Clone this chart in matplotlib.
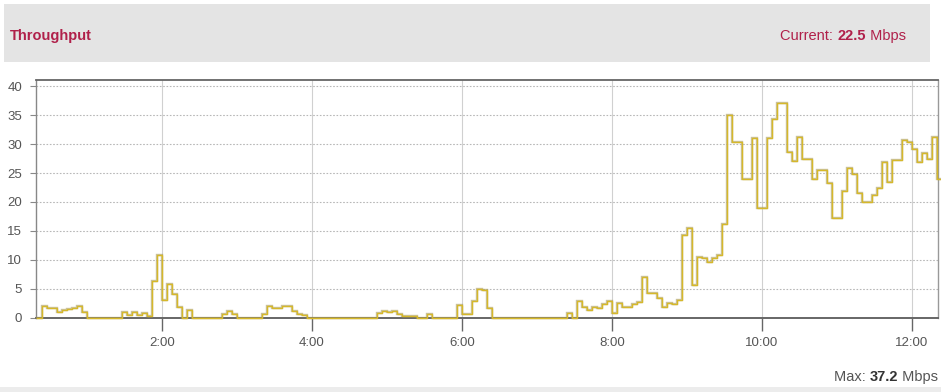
import matplotlib
matplotlib.use("Agg")
import matplotlib.pyplot as plt
import numpy as np
from matplotlib.patches import Rectangle

# ---- data -------------------------------------------------------------
start_hour = 20 / 60          # first sample at 0:20
step_minutes = 4              # sample interval
throughput = [
    0, 2.0, 1.6, 1.6, 1.0, 1.3, 1.4, 1.6, 2.0, 1.0,
    0, 0, 0, 0, 0, 0, 0, 1.0, 0.4, 1.0,
    0.4, 0.7, 0.2, 6.4, 10.8, 3.1, 5.8, 4.1, 1.9, 0,
    1.3, 0, 0, 0, 0, 0, 0, 0.6, 1.2, 0.6,
    0, 0, 0, 0, 0, 0.6, 2.0, 1.6, 1.6, 2.0,
    2.0, 1.2, 0.6, 0.5, 0, 0, 0, 0, 0, 0,
    0, 0, 0, 0, 0, 0, 0, 0, 0.7, 1.2,
    1.0, 1.1, 0.6, 0.2, 0.2, 0.2, 0, 0, 0.6, 0,
    0, 0, 0, 0, 2.1, 0.6, 0.6, 2.8, 4.9, 4.7,
    1.7, 0, 0, 0, 0, 0, 0, 0, 0, 0,
    0, 0, 0, 0, 0, 0, 0.7, 0, 2.8, 1.8,
    1.3, 1.8, 1.6, 2.4, 2.8, 0.7, 2.5, 1.8, 1.9, 2.4,
    2.7, 7.0, 4.2, 4.2, 3.3, 1.8, 2.5, 2.4, 3.0, 14.2,
    15.5, 5.6, 10.5, 10.3, 9.6, 10.3, 10.8, 16.1, 35.0, 30.3,
    30.3, 23.9, 23.9, 31.0, 18.9, 18.9, 31.1, 34.4, 37.2, 37.2,
    28.6, 27.1, 31.2, 27.4, 27.4, 23.9, 25.5, 25.5, 23.3, 17.3,
    17.3, 21.9, 25.8, 24.9, 21.5, 20.0, 20.0, 21.2, 22.4, 26.9,
    23.5, 27.2, 27.2, 30.7, 30.4, 29.1, 26.9, 28.4, 27.5, 31.2,
    23.9,
]
x_ticks = [2, 4, 6, 8, 10, 12]
x_tick_labels = ["2:00", "4:00", "6:00", "8:00", "10:00", "12:00"]
y_ticks = [0, 5, 10, 15, 20, 25, 30, 35, 40]
title = "Throughput"
current_value = "22.5"
max_value = "37.2"
unit = "Mbps"

# ---- figure -------------------------------------------------------------
W, H = 941, 392
fig = plt.figure(figsize=(W / 100, H / 100), dpi=100)
fig.patch.set_facecolor("white")

FONT = ["Liberation Sans", "DejaVu Sans"]
crimson = "#b0204a"
grey_txt = "#555555"

# header band
fig.patches.append(Rectangle((4 / W, 1 - 62 / H), 926 / W, 58 / H,
                             transform=fig.transFigure, facecolor="#e4e4e4",
                             edgecolor="none", zorder=0))
# bottom band
fig.patches.append(Rectangle((0, 0), 1, 5 / H, transform=fig.transFigure,
                             facecolor="#ececec", edgecolor="none", zorder=0))

fig.text(10 / W, 1 - 36 / H, title, color=crimson, fontsize=10.5,
         fontweight="bold", family=FONT, va="center", ha="left")

renderer = fig.canvas.get_renderer()


def right_text(x_px, y_px, pieces, size):
    """place text pieces (text, weight, color) ending at x_px"""
    x = x_px
    for txt, weight, color in reversed(pieces):
        t = fig.text(x / W, 1 - y_px / H, txt, fontsize=size, fontweight=weight,
                     color=color, family=FONT, ha="right", va="center")
        bb = t.get_window_extent(renderer)
        x -= bb.width


right_text(906, 36, [("Current: ", "normal", crimson),
                     (current_value, "bold", crimson),
                     (" " + unit, "normal", crimson)], 10.5)
right_text(938, 377, [("Max: ", "normal", grey_txt),
                      (max_value, "bold", "#333333"),
                      (" " + unit, "normal", grey_txt)], 10.5)

# ---- axes ---------------------------------------------------------------
left, right, top, bottom = 36, 938, 80, 317.5
ax = fig.add_axes([left / W, 1 - bottom / H, (right - left) / W, (bottom - top) / H])
ax.set_facecolor("white")

t = start_hour + np.arange(len(throughput) + 1) * step_minutes / 60
vals = list(throughput) + [throughput[-1]]
ax.step(t, vals, where="post", color="#a89a5a", lw=1.7, zorder=3,
        solid_joinstyle="miter", clip_on=False, alpha=0.6)
ax.step(t, vals, where="post", color="#d6b82a", lw=1.0, zorder=4,
        solid_joinstyle="miter", clip_on=False)

ax.set_xlim(0.32, 12.347)
ax.set_ylim(0, 41.1)

ax.set_xticks(x_ticks)
ax.set_xticklabels(x_tick_labels)
ax.set_yticks(y_ticks)
ax.set_yticklabels([str(v) for v in y_ticks])

for lab in ax.get_xticklabels() + ax.get_yticklabels():
    lab.set_family(FONT)
    lab.set_fontsize(9.5)
    lab.set_color(grey_txt)

ax.tick_params(axis="x", length=9, width=1, color="#666666", pad=5)
ax.tick_params(axis="y", length=4, width=0.8, color="#888888", pad=6)

ax.yaxis.grid(True, color="#b8b8b8", lw=0.8, linestyle=(0, (1.5, 1.5)), zorder=1)
ax.xaxis.grid(True, color="#d0d0d0", lw=0.8, zorder=1)
ax.set_axisbelow(True)

ax.spines["left"].set_color("#888888")
ax.spines["left"].set_linewidth(1.0)
ax.spines["bottom"].set_color("#666666")
ax.spines["bottom"].set_linewidth(1.4)
ax.spines["top"].set_color("#666666")
ax.spines["top"].set_linewidth(1.3)
ax.spines["right"].set_color("#999999")
ax.spines["right"].set_linewidth(1.0)
for s in ax.spines.values():
    s.set_zorder(2)

fig.savefig("out.png", dpi=100, facecolor=fig.get_facecolor())
